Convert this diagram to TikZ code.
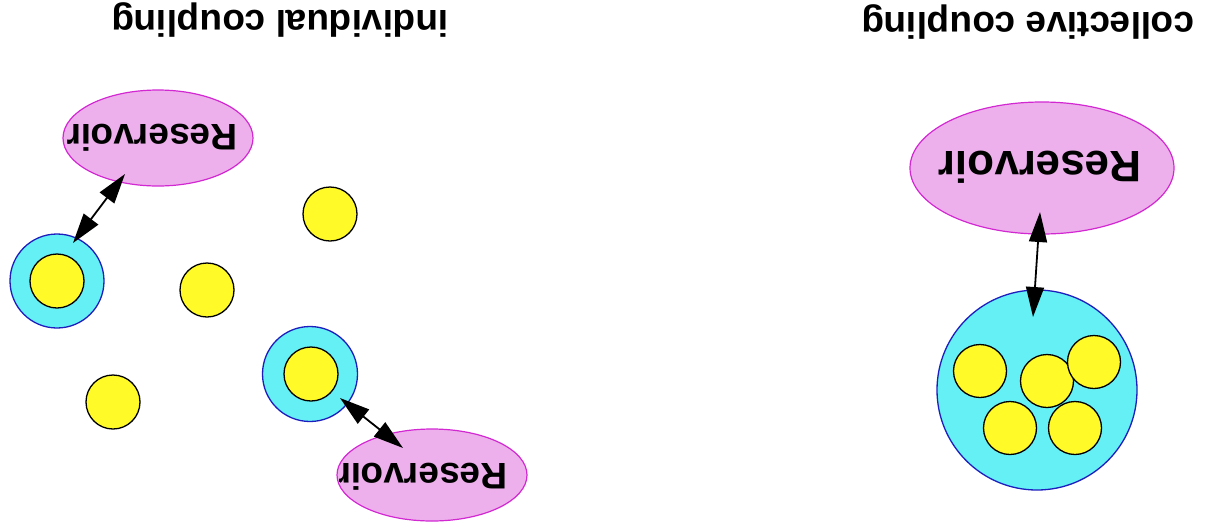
\documentclass[tikz,border=0pt]{standalone}
\usepackage{fontspec}
\setmainfont{Liberation Sans}
\usetikzlibrary{arrows.meta,shapes.geometric}
\definecolor{respink}{RGB}{238,176,236}
\definecolor{resedge}{RGB}{210,40,210}
\definecolor{ringcyan}{RGB}{100,240,245}
\definecolor{ringblue}{RGB}{30,30,190}
\definecolor{dotyellow}{RGB}{255,250,40}
\tikzset{
  x=1pt, y=-1pt,
  reservoir/.style={ellipse, fill=respink, draw=resedge, line width=1.2pt, inner sep=0pt},
  ring/.style={circle, fill=ringcyan, draw=ringblue, line width=1.3pt, inner sep=0pt},
  dot/.style={circle, fill=dotyellow, draw=black, line width=1.3pt, inner sep=0pt, minimum size=54pt},
  lbl/.style={rotate=180, font=\bfseries\fontsize{37}{40}\selectfont, inner sep=0pt},
  coupling/.style={line width=1.8pt, {Triangle[length=30pt,width=18pt]}-{Triangle[length=30pt,width=18pt]}}
}
\begin{document}
\begin{tikzpicture}
\useasboundingbox (0,0) rectangle (1205,531);
% titles
\node[lbl] (tcol) at (1028,22) {collective coupling};
\node[lbl] (tind) at (280,20) {individual coupling};
% collective
\node[reservoir, minimum width=264pt, minimum height=132pt] (resC) at (1042,168) {};
\node[lbl, font=\bfseries\fontsize{44}{48}\selectfont] (resCt) at (1040,167) {Reservoir};
\node[ring, minimum size=200pt] (ringC) at (1037,390) {};
\node[dot, minimum size=53pt] (c1) at (980,371) {};
\node[dot, minimum size=53pt] (c2) at (1047,381) {};
\node[dot, minimum size=53pt] (c3) at (1094,362) {};
\node[dot, minimum size=53pt] (c4) at (1010,428) {};
\node[dot, minimum size=53pt] (c5) at (1075,428) {};
\coordinate (aC1) at (1040,212);
\coordinate (aC2) at (1033,317);
\draw[coupling] (aC1) -- (aC2);
% individual: top-left
\node[reservoir, minimum width=190pt, minimum height=96pt] (resA) at (158,138) {};
\node[lbl] (resAt) at (152,138) {Reservoir};
\node[ring, minimum size=94pt] (ringA) at (57,281) {};
\node[dot] (dA) at (57,281) {};
\coordinate (aA1) at (125,174);
\coordinate (aA2) at (73,243);
\draw[coupling] (aA1) -- (aA2);
% free dots
\node[dot] (f1) at (330,214) {};
\node[dot] (f2) at (207,290) {};
\node[dot] (f3) at (113,402) {};
% individual: lower
\node[ring, minimum size=95pt] (ringB) at (310,374) {};
\node[dot] (dB) at (311,374) {};
\node[reservoir, minimum width=190pt, minimum height=92pt] (resB) at (432,475) {};
\begin{scope}
  \clip (resB.center) ellipse [x radius=94pt, y radius=45pt];
  \node[lbl] (resBt) at (422,477) {Reservoir};
\end{scope}
\coordinate (aB1) at (340,398);
\coordinate (aB2) at (403,448);
\draw[coupling] (aB1) -- (aB2);
\end{tikzpicture}
\end{document}
